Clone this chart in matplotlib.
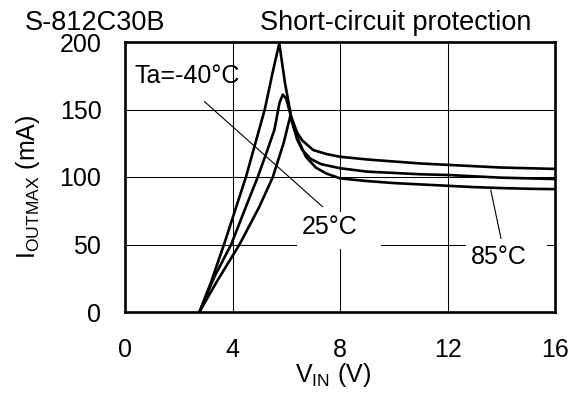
import matplotlib
matplotlib.use('Agg')
import matplotlib.pyplot as plt
from matplotlib.patches import Rectangle

plt.rcParams['font.family'] = ['Liberation Sans', 'DejaVu Sans']
plt.rcParams['mathtext.fontset'] = 'custom'
plt.rcParams['mathtext.rm'] = 'Liberation Sans'

# Data (V_IN in V, I_OUTMAX in mA)
vin_m40 = [2.77, 3.2, 3.7, 4.5, 5.2, 5.5, 5.74, 5.95, 6.18, 6.4, 6.6, 7.0, 7.5,
           8.0, 9.0, 10.0, 11.0, 12.0, 13.0, 14.0, 15.0, 16.0]
iout_m40 = [0, 22, 51, 100, 150, 178, 199, 170, 145, 133, 127, 120, 117,
            115, 113, 111.5, 110, 109, 108, 107, 106.5, 106]

vin_25 = [2.77, 3.3, 3.95, 4.5, 4.94, 5.3, 5.56, 5.75, 5.87, 6.0, 6.2, 6.4, 6.6,
          6.9, 7.3, 8.0, 9.0, 10.0, 11.0, 12.0, 13.0, 14.0, 15.0, 16.0]
iout_25 = [0, 25, 50, 78, 100, 120, 135, 155, 161, 158, 143, 128, 120,
           113.5, 109.5, 106.5, 104, 103, 102, 101.5, 100.5, 99.5, 99, 98.5]

vin_85 = [2.77, 3.4, 4.26, 5.0, 5.5, 5.9, 6.15, 6.3, 6.5, 6.73, 7.1, 7.48,
          8.0, 9.0, 10.0, 11.0, 12.0, 13.0, 14.0, 15.0, 16.0]
iout_85 = [0, 22, 50, 78, 100, 125, 145, 135, 125, 115, 107, 102.7,
           99, 97, 95.5, 94.5, 93.5, 92.5, 91.8, 91.3, 91]

x_ticks = [0, 4, 8, 12, 16]
y_ticks = [0, 50, 100, 150, 200]

fig = plt.figure(figsize=(5.79, 3.94), dpi=100, facecolor='white')
ax = fig.add_axes([125 / 579, 82 / 394, 430 / 579, 270 / 394])

for v, i in [(vin_m40, iout_m40), (vin_25, iout_25), (vin_85, iout_85)]:
    ax.plot(v, i, color='black', linewidth=1.9, solid_joinstyle='round', zorder=3)

ax.set_xlim(0, 16)
ax.set_ylim(0, 200)
ax.set_xticks(x_ticks)
ax.set_yticks(y_ticks)
ax.grid(True, color='black', linewidth=0.75)
ax.tick_params(length=0, labelsize=18)
ax.tick_params(axis='y', pad=17)
ax.tick_params(axis='x', pad=19)
for s in ax.spines.values():
    s.set_linewidth(1.9)
    s.set_zorder(5)

# white boxes behind the temperature labels (they break the grid)
ax.add_patch(Rectangle((6.41, 46.5), 3.12, 27.5, facecolor='white',
                       edgecolor='none', zorder=1.8))
ax.add_patch(Rectangle((12.7, 27), 3.0, 26, facecolor='white',
                       edgecolor='none', zorder=1.8))

# leader lines and labels
ax.plot([2.96, 7.35], [155.8, 78], color='black', linewidth=0.8, zorder=2.2)
ax.plot([13.61, 13.99], [90.4, 54.6], color='black', linewidth=0.8, zorder=2.2)
ax.text(0.35, 175, 'Ta=-40°C', fontsize=18, va='center', ha='left', zorder=4)
ax.text(7.6, 63, '25°C', fontsize=18, va='center', ha='center', zorder=4)
ax.text(13.9, 41, '85°C', fontsize=18, va='center', ha='center', zorder=4)

fig.text(25 / 579, 1 - 29.5 / 394, 'S-812C30B', fontsize=19.5, va='baseline', ha='left')
fig.text(260 / 579, 1 - 29.5 / 394, 'Short-circuit protection', fontsize=19.5,
         va='baseline', ha='left')
fig.text(28 / 579, 1 - 187 / 394, r'$\mathregular{I_{OUTMAX}}$ (mA)', fontsize=18,
         rotation=90, va='center', ha='center')
fig.text(333 / 579, 1 - 375 / 394, r'$\mathregular{V_{IN}}$ (V)', fontsize=18,
         va='center', ha='center')

fig.savefig('out.png', dpi=100, facecolor='white')
